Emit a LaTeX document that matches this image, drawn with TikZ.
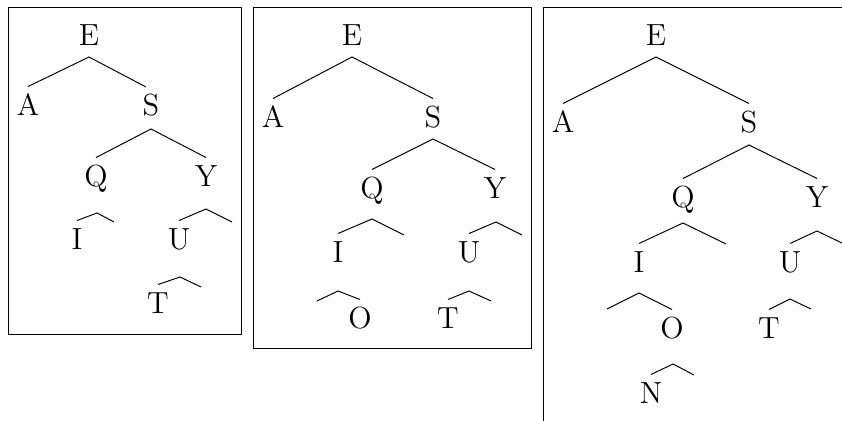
\documentclass[tikz,border=0pt]{standalone}
\usepackage{fontspec}
\begin{document}
\begin{tikzpicture}[x=0.36pt,y=-0.36pt,every node/.style={font=\fontsize{11}{13}\selectfont,inner xsep=0pt,inner ysep=2.7pt,text height=7.5pt,text depth=0pt},box/.style={draw,line width=0.35pt},roof/.style={draw,line width=0.35pt,line join=miter}]
\useasboundingbox (0,0) rectangle (842,421);
\clip (0,0) rectangle (842,421);
% first tree
\draw[box] (8,7) rectangle (241,334);
\node (e1) at (89,35) {E};
\node (a1) at (28,105) {A};
\node (s1) at (151,105) {S};
\node (q1) at (96,176) {Q};
\node (y1) at (206,176) {Y};
\node (i1) at (77,239) {I};
\node (u1) at (179,239) {U};
\node (t1) at (158,303) {T};
\coordinate (e1r) at (146,87);
\coordinate (q1r) at (114,222);
\coordinate (y1r) at (232,222);
\coordinate (u1r) at (201,287);
\draw[roof] (a1.north) -- (89,57) coordinate (e1b) -- (e1r);
\draw[roof] (q1.north) -- (151,129) coordinate (s1b) -- (y1.north);
\draw[roof] (i1.north) -- (97,213) coordinate (q1b) -- (q1r);
\draw[roof] (u1.north) -- (206,209) coordinate (y1b) -- (y1r);
\draw[roof] (t1.north) -- (180,277) coordinate (u1b) -- (u1r);
% second tree
\draw[box] (253,7) rectangle (531,348);
\node (e2) at (352,35) {E};
\node (a2) at (273,117) {A};
\node (s2) at (433,117) {S};
\node (q2) at (372,188) {Q};
\node (y2) at (495,188) {Y};
\node (i2) at (338,252) {I};
\node (u2) at (469,252) {U};
\node (o2) at (360,318) {O};
\node (t2) at (448,318) {T};
\coordinate (q2r) at (404,235);
\coordinate (y2r) at (522,235);
\coordinate (i2l) at (317,301);
\coordinate (u2r) at (491,301);
\draw[roof] (a2.north) -- (352,57) coordinate (e2b) -- (s2.north);
\draw[roof] (q2.north) -- (433,139) coordinate (s2b) -- (y2.north);
\draw[roof] (i2.north) -- (372,219) coordinate (q2b) -- (q2r);
\draw[roof] (u2.north) -- (496,222) coordinate (y2b) -- (y2r);
\draw[roof] (i2l) -- (338,291) coordinate (i2b) -- (o2.north);
\draw[roof] (t2.north) -- (469,291) coordinate (u2b) -- (u2r);
% third tree
\draw[box] (543,7) rectangle (900,480);
\node (e3) at (656,35) {E};
\node (a3) at (563,122) {A};
\node (s3) at (749,122) {S};
\node (q3) at (683,197) {Q};
\node (y3) at (817,197) {Y};
\node (i3) at (639,262) {I};
\node (u3) at (790,262) {U};
\node (o3) at (672,328) {O};
\node (t3) at (769,328) {T};
\node (n3) at (651,393) {N};
\coordinate (q3r) at (726,244);
\coordinate (y3r) at (844,244);
\coordinate (i3l) at (607,309);
\coordinate (u3r) at (811,309);
\coordinate (o3r) at (694,375);
\draw[roof] (a3.north) -- (656,57) coordinate (e3b) -- (s3.north);
\draw[roof] (q3.north) -- (749,145) coordinate (s3b) -- (y3.north);
\draw[roof] (i3.north) -- (683,223) coordinate (q3b) -- (q3r);
\draw[roof] (u3.north) -- (817,231) coordinate (y3b) -- (y3r);
\draw[roof] (i3l) -- (639,293) coordinate (i3b) -- (o3.north);
\draw[roof] (t3.north) -- (790,299) coordinate (u3b) -- (u3r);
\draw[roof] (n3.north) -- (673,364) coordinate (o3b) -- (o3r);
\end{tikzpicture}
\end{document}
